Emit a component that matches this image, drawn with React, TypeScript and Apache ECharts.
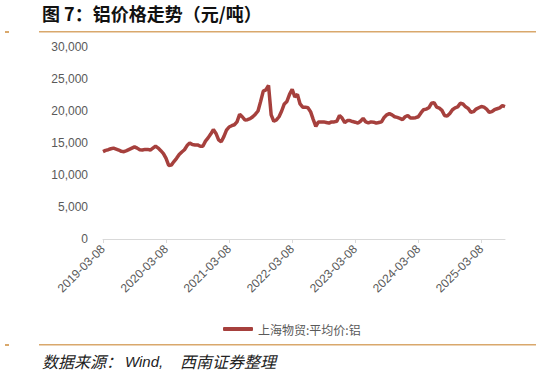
import React, { useEffect, useRef } from "react";
import * as echarts from "echarts";

// Semi-monthly observation dates (8th and 23rd of each month), from 2019-03-08
const START_YEAR = 2019;
const START_MONTH = 3;
const POINT_COUNT = 154;
const categories: string[] = Array.from({ length: POINT_COUNT }, (_, i) => {
  const m = START_MONTH - 1 + Math.floor(i / 2);
  const y = START_YEAR + Math.floor(m / 12);
  const mo = (m % 12) + 1;
  return `${y}-${String(mo).padStart(2, "0")}-${i % 2 === 0 ? "08" : "23"}`;
});

// 上海物贸:平均价:铝 (元/吨)
const aluminumPrice: number[] = [
  13650, 13850, 13950, 14100, 14200, 14050, 13900, 13700, 13650, 13800,
  14000, 14200, 14400, 14200, 13950, 13900, 14000, 14000, 13900, 14200,
  14500, 14200, 13800, 13350, 12600, 11500, 11550, 12100, 12600, 13200,
  13600, 13950, 14600, 15000, 14750, 14700, 14700, 14500, 14500, 15300,
  15800, 16400, 17100, 16500, 15500, 15200, 16000, 17000, 17500, 17700,
  17850, 18300, 19500, 19100, 18600, 18650, 18800, 19100, 19500, 20000,
  21500, 23100, 23300, 24000, 19400, 18400, 18600, 19100, 20000, 21100,
  21500, 22600, 23400, 22200, 22600, 21100, 20600, 20600, 20500, 19900,
  18700, 17600, 18300, 18300, 18300, 18200, 18100, 18300, 18300, 18400,
  19300, 18900, 18200, 18500, 18500, 18350, 18250, 18100, 18400, 18850,
  18300, 18150, 18300, 18250, 18100, 18200, 18300, 19000, 19400, 19600,
  19400, 19100, 19000, 18850, 18650, 19100, 19300, 18900, 18900, 18950,
  19100, 19700, 20200, 20300, 20500, 21200, 21300, 20600, 20450, 20100,
  19300, 19200, 19600, 20200, 20500, 20650, 21200, 21100, 20650, 20400,
  19800, 19900, 20300, 20500, 20700, 20600, 20300, 19800, 19900, 20200,
  20350, 20500, 20850, 20700,
];

const SERIES_NAME = "上海物贸:平均价:铝";
const TITLE = "图 7：铝价格走势（元/吨）";
const SOURCE_A = "数据来源：";
const SOURCE_B = "Wind,";
const SOURCE_C = "西南证券整理";

const Y_MIN = 0;
const Y_MAX = 30000;
const Y_INTERVAL = 5000;

const LINE_COLOR = "#A6403D";
const RULE_COLOR = "#D9A86C";
const TEXT_GRAY = "#595959";

const isYearTick = (_idx: number, value: string) => value.endsWith("-03-08");

export default function App() {
  const ref = useRef<HTMLDivElement>(null);

  useEffect(() => {
    document.body.style.margin = "0";
    if (!ref.current) return;
    const chart = echarts.init(ref.current, undefined, { renderer: "svg" });
    chart.setOption({
      animation: false,
      backgroundColor: "#ffffff",
      textStyle: { fontFamily: "Liberation Sans, Arial, Noto Sans CJK SC, sans-serif" },
      grid: { left: 103, right: 36, top: 47, bottom: 138, containLabel: false },
      legend: {
        left: 218,
        top: 318,
        icon: "roundRect",
        itemWidth: 30,
        itemHeight: 4,
        itemGap: 10,
        textStyle: {
          color: TEXT_GRAY,
          fontSize: 12,
          fontFamily: "Noto Sans CJK SC, sans-serif",
        },
        data: [SERIES_NAME],
      },
      xAxis: {
        type: "category",
        data: categories,
        boundaryGap: false,
        axisLine: { show: true, lineStyle: { color: "#D9D9D9", width: 1 } },
        axisTick: {
          show: true,
          interval: isYearTick,
          length: 4,
          lineStyle: { color: "#D9D9D9" },
        },
        axisLabel: {
          interval: isYearTick,
          rotate: 45,
          margin: 8,
          color: TEXT_GRAY,
          fontSize: 12,
          fontFamily: "Liberation Sans, Arial, sans-serif",
        },
        splitLine: { show: false },
      },
      yAxis: {
        type: "value",
        min: Y_MIN,
        max: Y_MAX,
        interval: Y_INTERVAL,
        axisLine: { show: false },
        axisTick: { show: false },
        splitLine: { show: false },
        axisLabel: {
          margin: 15,
          color: TEXT_GRAY,
          fontSize: 12,
          fontFamily: "Liberation Sans, Arial, sans-serif",
          formatter: (v: number) => v.toLocaleString("en-US"),
        },
      },
      series: [
        {
          name: SERIES_NAME,
          type: "line",
          data: aluminumPrice,
          showSymbol: false,
          symbol: "none",
          smooth: false,
          itemStyle: { color: LINE_COLOR },
          lineStyle: { color: LINE_COLOR, width: 3.5 },
        },
      ],
      graphic: [
        {
          type: "text",
          left: 42,
          top: 4,
          style: {
            text: TITLE,
            fill: "#111111",
            font: "bold 18px 'Noto Sans CJK SC', sans-serif",
          },
        },
        {
          type: "rect",
          shape: { x: 5, y: 31, width: 4, height: 2 },
          style: { fill: RULE_COLOR },
        },
        {
          type: "rect",
          shape: { x: 39, y: 31, width: 497, height: 1.5 },
          style: { fill: RULE_COLOR },
        },
        {
          type: "rect",
          shape: { x: 5, y: 344, width: 4, height: 2 },
          style: { fill: RULE_COLOR },
        },
        {
          type: "rect",
          shape: { x: 39, y: 344, width: 497, height: 1.5 },
          style: { fill: RULE_COLOR },
        },
        {
          type: "text",
          left: 42,
          top: 353,
          style: {
            text: SOURCE_A,
            fill: "#222222",
            font: "italic 16px 'Noto Sans CJK SC', sans-serif",
          },
        },
        {
          type: "text",
          left: 125,
          top: 354,
          style: {
            text: SOURCE_B,
            fill: "#222222",
            font: "italic 15px 'Liberation Sans', Arial, sans-serif",
          },
        },
        {
          type: "text",
          left: 180,
          top: 353,
          style: {
            text: SOURCE_C,
            fill: "#222222",
            font: "italic 16px 'Noto Sans CJK SC', sans-serif",
          },
        },
      ],
    });
    return () => chart.dispose();
  }, []);

  return <div ref={ref} style={{ width: 541, height: 377 }} />;
}
